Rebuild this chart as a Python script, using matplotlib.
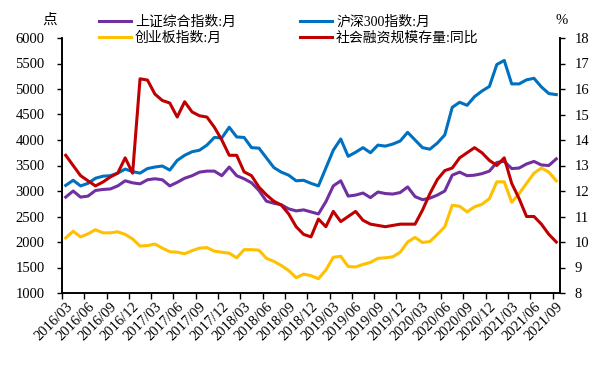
import matplotlib.pyplot as plt
import numpy as np

plt.rcParams['font.family'] = ['Liberation Serif', 'Noto Sans CJK SC']

# monthly categories 2016/03 .. 2021/09
months = [f'{y}/{m:02d}' for y in range(2016, 2022) for m in range(1, 13)][2:69]
tick_labels = months[::3]

# 上证综合指数:月 (points)
sse = [2880, 3000, 2880, 2900, 3010, 3030, 3040, 3100, 3200, 3160, 3140, 3220,
       3240, 3220, 3100, 3170, 3250, 3300, 3370, 3390, 3390, 3300, 3470, 3300,
       3240, 3160, 3010, 2800, 2760, 2730, 2650, 2610, 2630, 2590, 2550, 2790,
       3100, 3200, 2900, 2920, 2960, 2870, 2980, 2950, 2940, 2970, 3080, 2890,
       2830, 2860, 2920, 3000, 3310, 3370, 3300, 3310, 3340, 3390, 3560, 3580,
       3440, 3450, 3530, 3580, 3510, 3500, 3630]

# 沪深300指数:月 (points)
csi300 = [3110, 3210, 3100, 3150, 3250, 3290, 3300, 3350, 3430, 3380, 3350, 3440,
          3470, 3490, 3410, 3600, 3700, 3770, 3800, 3900, 4050, 4040, 4250, 4060,
          4050, 3850, 3840, 3650, 3460, 3370, 3310, 3200, 3210, 3150, 3100, 3450,
          3800, 4020, 3680, 3760, 3850, 3750, 3900, 3880, 3920, 3980, 4150, 4000,
          3850, 3820, 3940, 4100, 4640, 4740, 4680, 4850, 4960, 5050, 5480, 5560,
          5100, 5100, 5180, 5210, 5040, 4910, 4890]

# 创业板指数:月 (points)
chinext = [2080, 2210, 2100, 2160, 2240, 2180, 2180, 2200, 2150, 2060, 1920, 1930,
           1960, 1880, 1810, 1800, 1770, 1830, 1880, 1890, 1820, 1800, 1780, 1690,
           1850, 1850, 1840, 1680, 1620, 1540, 1440, 1300, 1370, 1340, 1280, 1450,
           1700, 1720, 1520, 1510, 1560, 1600, 1680, 1690, 1710, 1800, 2000, 2090,
           1990, 2010, 2150, 2300, 2720, 2700, 2590, 2690, 2740, 2850, 3180, 3180,
           2780, 2950, 3150, 3350, 3450, 3370, 3200]

# 社会融资规模存量:同比 (%)
sf_growth = [13.4, 13.0, 12.6, 12.4, 12.2, 12.35, 12.55, 12.7, 13.3, 12.7, 16.4, 16.35,
             15.8, 15.55, 15.45, 14.9, 15.5, 15.1, 14.95, 14.9, 14.5, 14.0, 13.4, 13.4,
             12.75, 12.6, 12.15, 11.85, 11.6, 11.45, 11.1, 10.6, 10.3, 10.2, 10.9, 10.6,
             11.2, 10.8, 11.0, 11.2, 10.85, 10.7, 10.65, 10.6, 10.65, 10.7, 10.7, 10.7,
             11.25, 11.9, 12.45, 12.8, 12.9, 13.3, 13.5, 13.7, 13.5, 13.2, 13.0, 13.3,
             12.3, 11.7, 11.0, 11.0, 10.7, 10.3, 10.0]

x = np.arange(len(months))

fig = plt.figure(figsize=(5.94, 3.69), dpi=100)
ax = fig.add_axes([62 / 594, 1 - 293 / 369, (560 - 62) / 594, (293 - 38) / 369])
ax2 = ax.twinx()

lw = 2.2
l1, = ax.plot(x, sse, color='#7030A0', lw=lw, solid_joinstyle='round', label='上证综合指数:月')
l3, = ax.plot(x, chinext, color='#FFC000', lw=lw, solid_joinstyle='round', label='创业板指数:月')
l2, = ax.plot(x, csi300, color='#0070C0', lw=lw, solid_joinstyle='round', label='沪深300指数:月')
l4, = ax2.plot(x, sf_growth, color='#C00000', lw=lw, solid_joinstyle='round', label='社会融资规模存量:同比')

ax.set_xlim(-0.5, len(months) - 0.5)
ax.set_ylim(1000, 6000)
ax.set_yticks(np.arange(1000, 6001, 500))
ax2.set_ylim(8, 18)
ax2.set_yticks(np.arange(8, 19, 1))

# tick marks between categories, labels on the categories
ax.set_xticks(np.arange(-0.5, len(months), 3))
ax.set_xticklabels([])
ax.set_xticks(x[::3], minor=True)
ax.set_xticklabels(tick_labels, minor=True, rotation=45, ha='right',
                   va='top', rotation_mode='anchor', fontsize=10.5)
ax.tick_params(axis='x', which='minor', length=0, pad=5)
ax.tick_params(axis='x', which='major', direction='out', length=4, width=1)
ax.tick_params(axis='y', direction='out', length=3.5, width=1, labelsize=10.5, pad=9)
ax2.tick_params(axis='y', direction='out', length=3.5, width=1, labelsize=10.5, pad=7)

for a in (ax, ax2):
    a.spines['top'].set_visible(False)
    for s in ('left', 'right', 'bottom'):
        a.spines[s].set_linewidth(1.2)

fig.text(50 / 594, 1 - 20 / 369, '点', ha='center', va='center', fontsize=10.5)
fig.text(562 / 594, 1 - 21 / 369, '%', ha='center', va='center', fontsize=10.5)

fig.legend(handles=[l1, l3, l2, l4], ncol=2, loc='upper left',
           bbox_to_anchor=(92 / 594, 1 - 8 / 369), frameon=False,
           fontsize=10, borderpad=0, handlelength=2.3, handletextpad=0.3,
           columnspacing=4.6, labelspacing=0.2)

fig.savefig('out.png', dpi=100)
